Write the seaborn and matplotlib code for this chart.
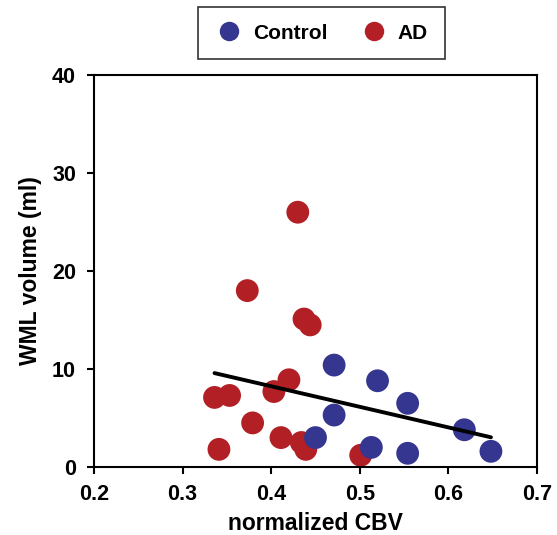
import pandas as pd
import matplotlib.pyplot as plt
import seaborn as sns

# values
ad_cbv = [0.430, 0.373, 0.437, 0.444, 0.420, 0.403, 0.336, 0.353,
          0.379, 0.411, 0.434, 0.439, 0.341, 0.501]
ad_wml = [26.0, 18.0, 15.1, 14.5, 8.9, 7.7, 7.1, 7.3,
          4.5, 3.0, 2.5, 1.8, 1.8, 1.2]
ctrl_cbv = [0.471, 0.520, 0.554, 0.471, 0.450, 0.513, 0.554, 0.618, 0.648]
ctrl_wml = [10.4, 8.8, 6.5, 5.3, 3.0, 2.0, 1.4, 3.8, 1.6]

groups = ['Control', 'AD']
colors = {'Control': '#34368f', 'AD': '#b21f24'}

df = pd.DataFrame({
    'cbv': ad_cbv + ctrl_cbv,
    'wml': ad_wml + ctrl_wml,
    'group': ['AD'] * len(ad_cbv) + ['Control'] * len(ctrl_cbv),
})

sns.set_style('ticks')
plt.rcParams['font.family'] = ['Liberation Sans', 'DejaVu Sans']
plt.rcParams['font.weight'] = 'bold'
plt.rcParams['text.color'] = 'black'
plt.rcParams['axes.labelcolor'] = 'black'
plt.rcParams['xtick.color'] = 'black'
plt.rcParams['ytick.color'] = 'black'

fig = plt.figure(figsize=(5.57, 5.35), dpi=100)
ax = fig.add_axes([0.1688, 0.1271, 0.7953, 0.7327])

# AD first so the control points sit on top
sns.scatterplot(data=df, x='cbv', y='wml', hue='group', hue_order=['AD', 'Control'],
                palette=colors, s=270, edgecolor='none', linewidth=0,
                legend=False, ax=ax, zorder=2)

# pooled linear fit over all subjects
sns.regplot(data=df, x='cbv', y='wml', scatter=False, ci=None, truncate=True,
            color='black', line_kws={'linewidth': 2.8, 'zorder': 3}, ax=ax)

ax.set_xlim(0.2, 0.7)
ax.set_ylim(0, 40)
ax.set_xticks([0.2, 0.3, 0.4, 0.5, 0.6, 0.7])
ax.set_yticks([0, 10, 20, 30, 40])
ax.set_xticklabels(['0.2', '0.3', '0.4', '0.5', '0.6', '0.7'], fontsize=15.5, fontweight='bold')
ax.set_yticklabels(['0', '10', '20', '30', '40'], fontsize=15.5, fontweight='bold')
ax.set_xlabel('normalized CBV', fontsize=16.5, fontweight='bold', labelpad=5)
ax.set_ylabel('WML volume (ml)', fontsize=16.5, fontweight='bold', labelpad=7)

for side in ['left', 'bottom', 'right', 'top']:
    ax.spines[side].set_visible(True)
    ax.spines[side].set_linewidth(1.5)
    ax.spines[side].set_color('black')
ax.tick_params(direction='out', length=5, width=1.5, colors='black')
ax.tick_params(axis='x', pad=7)
ax.tick_params(axis='y', pad=8)

handles = [plt.Line2D([], [], marker='o', linestyle='none', markersize=14,
                      markerfacecolor=colors[g], markeredgecolor='none') for g in groups]
leg = fig.legend(handles, groups, loc='center', bbox_to_anchor=(0.577, 0.938), ncol=2,
                 frameon=True, fancybox=False, prop={'weight': 'bold', 'size': 15},
                 handletextpad=0.45, columnspacing=1.5, borderpad=0.8, handlelength=1.4,
                 borderaxespad=0)
leg.get_frame().set_edgecolor('black')
leg.get_frame().set_linewidth(1.2)

fig.savefig('out.png', dpi=100)
